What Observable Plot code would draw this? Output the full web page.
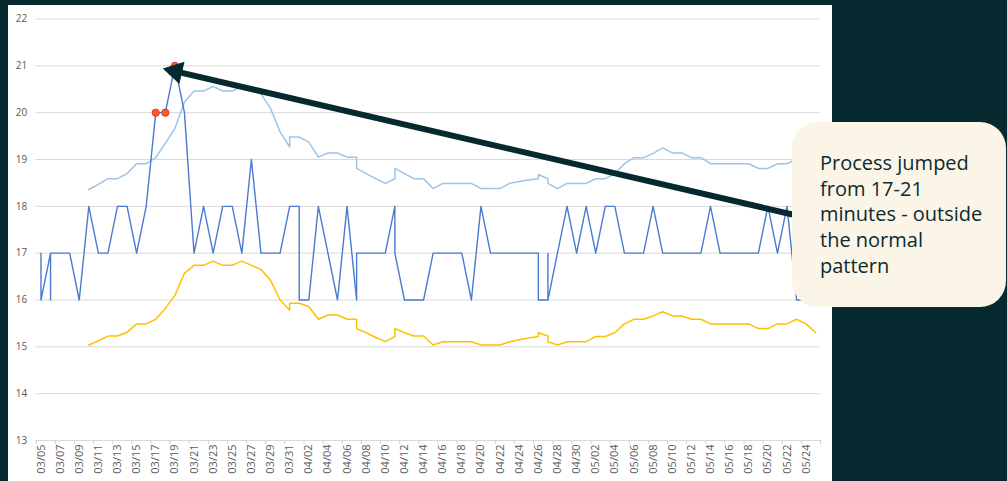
<!DOCTYPE html>
<html>
<head>
<meta charset="utf-8">
<script src="https://cdn.jsdelivr.net/npm/d3@7"></script>
<script src="https://cdn.jsdelivr.net/npm/@observablehq/plot@0.6"></script>
<style>
  html, body { margin: 0; padding: 0; }
  body { width: 1007px; height: 481px; overflow: hidden; position: relative; background: #06282f; font-family: "Open Sans", sans-serif; }
  #panel { position: absolute; left: 8px; top: 5px; width: 824px; height: 480px; background: #ffffff; }
  #chart { position: absolute; left: 0; top: 0; }
  #callout { position: absolute; left: 792px; top: 122px; width: 186px; height: 157px; padding: 28px 0 0 28px;
    background: #fbf5e7; border-radius: 26px; color: #0b2a31; font-family: "Open Sans", sans-serif; font-size: 20px; line-height: 25.7px; }
</style>
</head>
<body>
<div id="panel"></div>
<div id="chart"></div>
<div id="callout">Process jumped<br>from 17-21<br>minutes - outside<br>the normal<br>pattern</div>
<script>
const YEAR = 2023;
const yTicks = [13, 14, 15, 16, 17, 18, 19, 20, 21, 22];

const mainDates = ["03/05","03/05","03/06","03/06","03/06","03/07","03/08","03/09","03/10","03/11",
  "03/12","03/13","03/14","03/15","03/16","03/17","03/18","03/19","03/20","03/21",
  "03/22","03/23","03/24","03/25","03/26","03/27","03/28","03/29","03/30","03/31",
  "04/01","04/01","04/02","04/03","04/04","04/05","04/06","04/07","04/07","04/08",
  "04/09","04/10","04/11","04/11","04/12","04/13","04/14","04/15","04/16","04/17",
  "04/18","04/19","04/20","04/21","04/22","04/23","04/24","04/25","04/26","04/26",
  "04/27","04/27","04/27","04/28","04/29","04/30","05/01","05/02","05/03","05/04",
  "05/05","05/06","05/07","05/08","05/09","05/10","05/11","05/12","05/13","05/14",
  "05/15","05/16","05/17","05/18","05/19","05/20","05/21","05/22","05/23","05/24"];
const mainValues = [17,16,17,16,17,17,17,16,18,17,
  17,18,18,17,18,20,20,21,20,17,
  18,17,18,18,17,19,17,17,17,18,
  18,16,16,18,17,16,18,16,17,17,
  17,17,18,17,16,16,16,17,17,17,
  17,16,18,17,17,17,17,17,17,16,
  16,17,16,17,18,17,18,17,18,18,
  17,17,17,18,17,17,17,17,17,18,
  17,17,17,17,17,18,17,18,16,16];

const limitDates = ["03/10","03/11","03/12","03/13","03/14","03/15","03/16","03/17","03/18","03/19",
  "03/20","03/21","03/22","03/23","03/24","03/25","03/26","03/27","03/28","03/29",
  "03/30","03/31","03/31","04/01","04/02","04/03","04/04","04/05","04/06","04/07",
  "04/07","04/08","04/09","04/10","04/11","04/11","04/12","04/13","04/14","04/15",
  "04/16","04/17","04/18","04/19","04/20","04/21","04/22","04/23","04/24","04/25",
  "04/26","04/26","04/27","04/27","04/28","04/29","04/30","05/01","05/02","05/03",
  "05/04","05/05","05/06","05/07","05/08","05/09","05/10","05/11","05/12","05/13",
  "05/14","05/15","05/16","05/17","05/18","05/19","05/20","05/21","05/22","05/23",
  "05/24","05/25"];
const uclValues = [18.36,18.47,18.59,18.59,18.70,18.91,18.91,19.04,19.35,19.66,
  20.23,20.46,20.46,20.56,20.46,20.46,20.56,20.50,20.40,20.09,
  19.59,19.27,19.48,19.48,19.37,19.05,19.14,19.14,19.05,19.05,
  18.81,18.70,18.59,18.49,18.59,18.81,18.70,18.59,18.59,18.38,
  18.49,18.49,18.49,18.49,18.38,18.38,18.38,18.49,18.53,18.56,
  18.59,18.68,18.59,18.49,18.38,18.49,18.49,18.49,18.59,18.59,
  18.70,18.91,19.04,19.04,19.13,19.25,19.14,19.14,19.04,19.04,
  18.91,18.91,18.91,18.91,18.91,18.81,18.81,18.91,18.91,19.01,
  18.91,18.72];
const lclValues = [15.04,15.13,15.23,15.23,15.31,15.49,15.49,15.59,15.82,16.10,
  16.57,16.74,16.74,16.83,16.74,16.74,16.83,16.74,16.65,16.42,
  16.00,15.78,15.93,15.93,15.86,15.59,15.68,15.68,15.59,15.59,
  15.39,15.30,15.20,15.11,15.22,15.39,15.30,15.23,15.23,15.04,
  15.11,15.11,15.11,15.11,15.04,15.04,15.04,15.11,15.15,15.19,
  15.22,15.30,15.23,15.11,15.04,15.11,15.11,15.11,15.22,15.22,
  15.30,15.49,15.59,15.59,15.66,15.75,15.66,15.66,15.59,15.59,
  15.49,15.49,15.49,15.49,15.49,15.39,15.39,15.49,15.49,15.59,
  15.49,15.30];

// points above the upper limit
const flagDates = ["03/17", "03/18", "03/19"];
const flagValues = [20, 20, 21];

// annotation arrow (tail near the callout, head at the jump)
const arrowFrom = { date: "2023-05-22T11:00Z", value: 17.83 };
const arrowTo = { date: "2023-03-17T20:00Z", value: 20.94 };

const parse = s => d3.utcParse("%m/%d/%Y")(s + "/" + YEAR);
const DAY = 864e5;
const startDate = parse("03/05");
const endDate = parse("05/25");
const domain = [new Date(+startDate - DAY / 2), new Date(+endDate + DAY / 2)];
const labelDates = d3.range(0, 81, 2).map(i => new Date(+startDate + i * DAY));
const tickDates = d3.range(0, 83, 2).map(i => new Date(+domain[0] + i * DAY));

const main = mainDates.map((d, i) => ({ date: parse(d), value: mainValues[i] }));
const limits = limitDates.map((d, i) => ({ date: parse(d), ucl: uclValues[i], lcl: lclValues[i] }));
const flags = flagDates.map((d, i) => ({ date: parse(d), value: flagValues[i] }));
const arrows = [{ x1: new Date(arrowFrom.date), y1: arrowFrom.value, x2: new Date(arrowTo.date), y2: arrowTo.value }];

const INK = "#06282f";

function build(extra) {
  return Plot.plot({
    width: 1007,
    height: 481,
    marginLeft: 35.7,
    marginRight: 187,
    marginTop: 18.5,
    marginBottom: 41,
    style: { background: "transparent", fontFamily: "Open Sans, sans-serif", overflow: "visible" },
    x: { type: "utc", domain },
    y: { domain: [13, 22] },
    marks: [
      Plot.gridY(yTicks, { stroke: "#d9d9d9", strokeOpacity: 1, strokeWidth: 1 }),
      Plot.axisY(yTicks, { tickSize: 0, tickPadding: 9, fontSize: 10, fill: "#595959", label: null }),
      Plot.axisX(tickDates, { tickSize: 4, stroke: "#d0d0d0", tickFormat: () => "", label: null }),
      Plot.axisX(labelDates, { tickSize: 0, tickPadding: 4, tickRotate: -90, fontSize: 11, fill: "#595959",
        tickFormat: d3.utcFormat("%m/%d"), label: null }),
      Plot.line(limits, { x: "date", y: "ucl", stroke: "#9dc3e6", strokeWidth: 1.5 }),
      Plot.line(limits, { x: "date", y: "lcl", stroke: "#ffc000", strokeWidth: 1.5 }),
      Plot.line(main, { x: "date", y: "value", stroke: "#4a7bd0", strokeWidth: 1.4 }),
      Plot.dot(flags, { x: "date", y: "value", r: 3.6, fill: "#ff5a2e", stroke: "#e3381b", strokeWidth: 1 }),
      ...extra
    ]
  });
}

// first pass to read the scales, then orient a filled arrowhead along the arrow
const probe = build([]);
const sx = probe.scale("x"), sy = probe.scale("y");
const a = arrows[0];
const ang = Math.atan2(sy.apply(a.y2) - sy.apply(a.y1), sx.apply(a.x2) - sx.apply(a.x1));
const headR = 7.8;                               // triangle "radius" (area = pi r^2)
const side = Math.sqrt(Math.PI * headR * headR * 4 / Math.sqrt(3));
const apex = side / Math.sqrt(3);                 // centroid-to-apex distance

const chart = build([
  Plot.arrow(arrows, { x1: "x1", y1: "y1", x2: "x2", y2: "y2", stroke: INK, strokeWidth: 6,
    headLength: 0, insetEnd: apex }),
  Plot.dot(arrows, { x: "x2", y: "y2", symbol: "triangle", r: headR, fill: INK, stroke: INK, strokeWidth: 1,
    rotate: ang * 180 / Math.PI + 90, dx: -apex * Math.cos(ang), dy: -apex * Math.sin(ang) })
]);
document.getElementById("chart").appendChild(chart);
</script>
</body>
</html>
